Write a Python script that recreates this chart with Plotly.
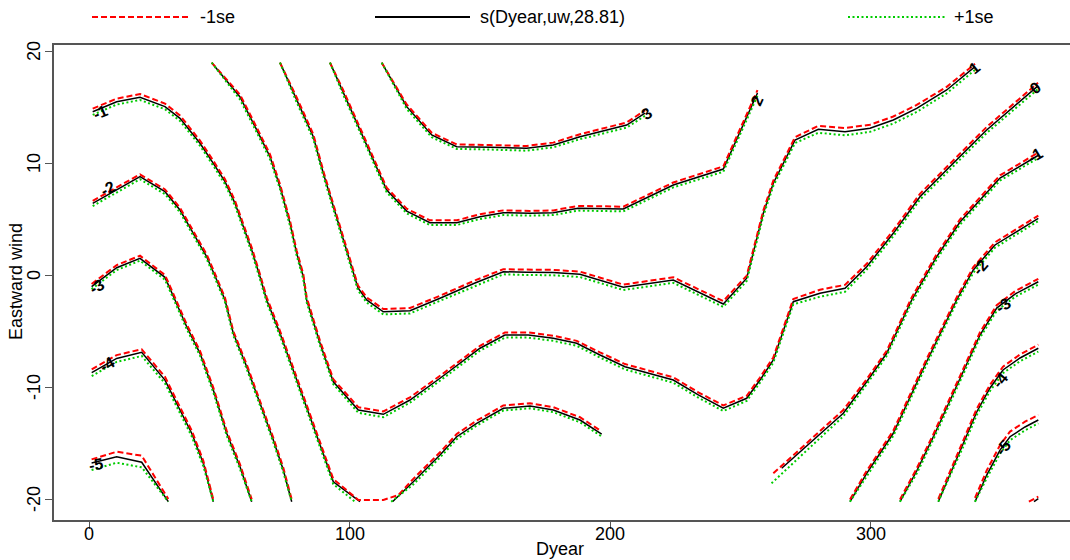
import plotly.graph_objects as go

# ---------------- text ----------------
x_ticks = [0, 100, 200, 300]
y_ticks = [-20, -10, 0, 10, 20]
x_title = "Dyear"
y_title = "Eastward wind"
legend_labels = ["-1se", "s(Dyear,uw,28.81)", "+1se"]

# ---------------- contour lines (fit, -1se = red, +1se = green) ----------------
# level -5 (left)
m5a_x = [1, 10.63, 20.23, 30.44]
m5a_fit = [-16.79, -16.22, -16.72, -20.24]
m5a_lo = [-16.46, -15.78, -16.13, -20.0]
m5a_hi = [-17.41, -16.76, -17.17, -20.24]

# level -4 (left)
m4a_x = [1.04, 10.63, 20.23, 29.17, 32.36, 35.59, 39.42, 43.88, 47.72]
m4a_fit = [-8.72, -7.45, -6.90, -9.38, -10.87, -12.35, -14.13, -16.81, -20.24]
m4a_lo = [-8.42, -7.15, -6.63, -9.1, -10.6, -12.1, -13.88, -16.58, -20.03]
m4a_hi = [-9.02, -7.76, -7.23, -9.68, -11.15, -12.62, -14.4, -17.06, -20.24]

# level -3 (left)
m3a_x = [1, 10.63, 19.58, 29.17, 33.01, 37.51, 42.61, 47.72, 52.86, 57.97, 62.46]
m3a_fit = [-1.04, 0.65, 1.49, -0.21, -2.23, -4.62, -6.99, -10.27, -14.13, -17.12, -20.24]
m3a_lo = [-0.8, 0.88, 1.72, 0.0, -2.02, -4.41, -6.78, -10.06, -13.92, -16.91, -20.03]
m3a_hi = [-1.26, 0.44, 1.28, -0.42, -2.44, -4.83, -7.2, -10.48, -14.34, -17.33, -20.24]

# level -2 (left)
m2a_x = [1.42, 9.33, 19.58, 29.17, 34.93, 40.04, 45.18, 49.02, 52.21, 55.39, 60.54,
         65.64, 70.75, 74.59, 77.81]
m2a_fit = [6.40, 7.44, 8.78, 7.44, 5.80, 3.72, 1.63, -0.45, -2.23, -5.21, -8.19,
           -11.46, -14.73, -17.41, -20.24]
m2a_lo = [6.62, 7.66, 8.99, 7.64, 6.0, 3.92, 1.83, -0.25, -2.03, -5.01, -7.99,
          -11.26, -14.53, -17.21, -20.04]
m2a_hi = [6.15, 7.2, 8.55, 7.22, 5.6, 3.52, 1.43, -0.65, -2.43, -5.41, -8.39,
          -11.66, -14.93, -17.61, -20.24]

# level -1 (left part, two pieces of the fit)
m1a_x = [1.42, 10.63, 19.58, 29.17, 34.93, 42.61, 47.72, 52.21, 56.05, 59.23, 62.46,
         65.64, 68.21, 73.3, 78.4, 83.57, 88.68, 93.79, 104.03]
m1a_fit = [14.58, 15.47, 15.87, 15.03, 13.99, 11.76, 9.97, 8.33, 6.40, 4.31, 2.23,
           -0.15, -2.23, -5.21, -8.48, -11.76, -15.03, -18.46, -20.24]
m1b_x = [116.5, 124.49, 134.74, 141.15, 148.83, 159.04, 169.29, 178.23, 188.48, 196.81]
m1b_fit = [-20.24, -18.46, -16.07, -14.44, -13.24, -11.90, -11.70, -12.05, -12.95, -14.20]
m1_lo_x = [1.42, 10.63, 19.58, 29.17, 34.93, 42.61, 47.72, 52.21, 56.05, 59.23, 62.46,
           65.64, 68.21, 73.3, 78.4, 83.57, 88.68, 93.79, 103.4, 113.0, 118.8, 124.49,
           134.74, 141.15, 148.83, 159.04, 169.29, 178.23, 188.48, 196.0]
m1_lo = [14.85, 15.75, 16.16, 15.3, 14.25, 12.0, 10.2, 8.55, 6.62, 4.52, 2.45,
         0.07, -2.0, -4.98, -8.25, -11.53, -14.8, -18.22, -20.09, -20.09, -19.64, -18.2,
         -15.83, -14.2, -13.0, -11.65, -11.45, -11.8, -12.7, -13.85]
m1a_hi_x = [1.42, 10.63, 19.58, 29.17, 34.93, 42.61, 47.72, 52.21, 56.05, 59.23, 62.46,
            65.64, 68.21, 73.3, 78.4, 83.57, 88.68, 93.79, 102.1]
m1a_hi = [14.3, 15.22, 15.63, 14.8, 13.76, 11.54, 9.75, 8.11, 6.18, 4.09, 2.01,
          -0.37, -2.45, -5.43, -8.7, -11.98, -15.25, -18.68, -20.24]
m1b_hi_x = [116.0, 124.49, 134.74, 141.15, 148.83, 159.04, 169.29, 178.23, 188.48, 196.81]
m1b_hi = [-20.24, -18.7, -16.3, -14.66, -13.45, -12.1, -11.9, -12.25, -13.15, -14.42]

# level 0
z0_x = [47.10, 57.97, 64.38, 69.48, 73.32, 77.16, 79.73, 82.27, 83.57, 88.68, 93.78,
        103.38, 112.98, 123.22, 134.74, 150.10, 159.69, 168.64, 178.23, 187.22, 196.16,
        205.76, 224.30, 233.90, 243.49, 252.48, 257.58, 262.69, 270.36, 280.61, 290.21,
        298.54, 308.75, 318.98, 331.77, 344.6, 364.3]
z0_fit = [18.96, 15.89, 12.95, 10.56, 7.88, 4.62, 1.94, -0.15, -2.23, -6.10, -9.53,
          -12.05, -12.44, -11.16, -9.22, -6.54, -5.36, -5.36, -5.65, -6.10, -7.14,
          -8.19, -9.38, -10.71, -11.90, -11.01, -9.38, -7.59, -2.38, -1.63, -1.19,
          0.74, 3.72, 6.99, 9.97, 12.95, 16.88]
z0_lo = [18.96, 16.11, 13.17, 10.78, 8.1, 4.84, 2.16, 0.07, -2.01, -5.88, -9.31,
         -11.8, -12.18, -10.92, -9.0, -6.32, -5.13, -5.13, -5.42, -5.88, -6.91,
         -7.95, -9.14, -10.47, -11.65, -10.78, -9.15, -7.36, -2.14, -1.32, -0.88,
         1.0, 3.98, 7.25, 10.23, 13.22, 17.16]
z0_hi = [18.96, 15.67, 12.73, 10.34, 7.66, 4.4, 1.72, -0.37, -2.45, -6.32, -9.75,
         -12.3, -12.7, -11.4, -9.44, -6.76, -5.59, -5.59, -5.88, -6.32, -7.37,
         -8.43, -9.62, -10.95, -12.15, -11.24, -9.61, -7.82, -2.62, -1.94, -1.5,
         0.48, 3.46, 6.73, 9.71, 12.68, 16.6]

# level 1
p1_x = [73.32, 79.73, 86.10, 89.94, 93.78, 97.62, 100.19, 103.26, 106.60, 112.98, 123.22,
        134.74, 148.18, 159.04, 168.02, 178.12, 188.48, 205.1, 224.30, 243.49, 252.48,
        256.32, 258.85, 262.69, 271.02, 279.96, 290.21, 299.81, 308.75, 317.73, 329.25,
        340.12]
p1_fit = [18.96, 15.63, 12.35, 9.08, 6.10, 3.13, 1.04, -1.16, -2.23, -3.28, -3.19,
          -2.08, -0.71, 0.29, 0.24, 0.22, 0.06, -1.10, -0.45, -2.59, -0.29,
          3.13, 5.51, 8.19, 12.05, 13.01, 12.79, 13.10, 13.84, 14.88, 16.52, 18.60]
p1_lo = [18.96, 15.85, 12.57, 9.3, 6.32, 3.35, 1.26, -0.94, -2.0, -3.04, -2.95,
         -1.85, -0.48, 0.52, 0.48, 0.46, 0.3, -0.86, -0.2, -2.33, -0.05,
         3.37, 5.75, 8.43, 12.3, 13.32, 13.12, 13.42, 14.15, 15.18, 16.8, 18.85]
p1_hi = [18.96, 15.41, 12.13, 8.86, 5.88, 2.91, 0.82, -1.38, -2.46, -3.52, -3.43,
         -2.31, -0.94, 0.06, 0.0, -0.02, -0.18, -1.34, -0.7, -2.85, -0.53,
         2.89, 5.27, 7.95, 11.78, 12.7, 12.47, 12.78, 13.52, 14.56, 16.22, 18.32]

# level 2
p2_x = [92.51, 97.5, 104.03, 109.14, 114.28, 121.96, 130.90, 141.15, 150.10, 159.04,
        169.29, 178.23, 187.72, 205.11, 224.30, 243.49, 256.62]
p2_fit = [18.96, 16.34, 12.95, 10.27, 7.59, 5.71, 4.67, 4.67, 5.21, 5.56,
          5.51, 5.56, 5.96, 5.89, 8.04, 9.46, 16.25]
p2_lo = [18.96, 16.54, 13.15, 10.47, 7.8, 5.92, 4.88, 4.88, 5.42, 5.77,
         5.72, 5.77, 6.17, 6.1, 8.26, 9.7, 16.5]
p2_hi = [18.96, 16.14, 12.75, 10.07, 7.38, 5.5, 4.46, 4.46, 5.0, 5.35,
         5.3, 5.35, 5.75, 5.68, 7.82, 9.22, 16.0]

# level 3
p3_x = [112.36, 121.96, 131.56, 141.15, 153.93, 168.02, 178.23, 188.48, 206.41, 213.44]
p3_fit = [18.96, 15.03, 12.5, 11.46, 11.40, 11.31, 11.61, 12.35, 13.39, 14.46]
p3_lo = [18.96, 15.23, 12.7, 11.66, 11.6, 11.52, 11.82, 12.57, 13.62, 14.7]
p3_hi = [18.96, 14.83, 12.3, 11.26, 11.2, 11.1, 11.4, 12.13, 13.16, 14.22]

# level -1 (right)
m1r_x = [265.91, 289.56, 298.54, 306.22, 315.82, 325.41, 334.36, 344.61, 349.71, 364.3]
m1r_fit = [-17.26, -12.35, -9.53, -6.99, -2.23, 1.63, 4.73, 7.41, 8.66, 10.67]
m1r_lo_x = [262.7, 289.56, 298.54, 306.22, 315.82, 325.41, 334.36, 344.61, 349.71, 364.3]
m1r_lo = [-17.71, -12.05, -9.3, -6.77, -2.0, 1.86, 4.96, 7.64, 8.9, 10.92]
m1r_hi_x = [262.0, 289.56, 298.54, 306.22, 315.82, 325.41, 334.36, 344.61, 349.71, 364.3]
m1r_hi = [-18.6, -12.62, -9.76, -7.22, -2.46, 1.4, 4.5, 7.18, 8.43, 10.43]

# level -2 (right)
m2r_x = [292.13, 298.54, 308.75, 320.92, 333.07, 339.46, 347.79, 364.42]
m2r_fit = [-20.24, -17.71, -14.13, -8.04, -2.23, 0.45, 2.68, 5.06]
m2r_lo = [-20.04, -17.48, -13.9, -7.8, -2.0, 0.7, 2.92, 5.3]
m2r_hi = [-20.24, -17.94, -14.36, -8.28, -2.46, 0.2, 2.44, 4.82]

# level -3 (right)
m3r_x = [311.32, 317.73, 324.1, 329.75, 334.36, 342.03, 348.44, 355.47, 364.42]
m3r_fit = [-20.24, -17.5, -14.46, -11.61, -9.20, -5.36, -2.95, -1.70, -0.60]
m3r_lo = [-20.04, -17.27, -14.23, -11.38, -8.97, -5.12, -2.7, -1.45, -0.34]
m3r_hi = [-20.24, -17.73, -14.69, -11.84, -9.43, -5.6, -3.2, -1.95, -0.86]

# level -4 (right)
m4r_x = [326.03, 331.79, 336.28, 340.77, 345.87, 350.86, 357.39, 364.42]
m4r_fit = [-20.24, -17.05, -14.73, -12.23, -10.09, -8.48, -7.41, -6.54]
m4r_lo = [-20.0, -16.8, -14.47, -11.95, -9.8, -8.18, -7.1, -6.22]
m4r_hi = [-20.24, -17.3, -14.98, -12.5, -10.36, -8.76, -7.7, -6.84]

# level -5 (right)
m5r_x = [340.12, 344.61, 349.71, 353.55, 359.31, 364.42]
m5r_fit = [-20.24, -17.86, -15.63, -14.44, -13.57, -12.95]
m5r_lo = [-19.9, -17.45, -15.2, -13.98, -13.1, -12.5]
m5r_hi = [-20.24, -18.15, -15.95, -14.75, -13.87, -13.25]

# level -6 (corner fragment)
m6r_x = [362.76, 364.42]
m6r_fit = [-20.24, -19.96]
m6r_lo_x = [360.8, 364.42]
m6r_lo = [-20.24, -19.78]

# contour labels
lab_text = ["-1", "-2", "-3", "-4", "-5", "3", "2", "1", "0", "-1", "-2", "-3", "-4", "-5"]
lab_x = [4.2, 7.3, 3.1, 6.9, 2.7, 214.2, 256.4, 340.1, 363.5, 363.1, 342.0, 350.9, 349.7, 350.9]
lab_y = [14.55, 7.68, -1.07, -8.0, -16.9, 14.46, 15.6, 18.5, 16.7, 10.7, 0.7, -2.7, -9.4, -15.4]

# ---------------- styles ----------------
FONT = "Liberation Sans, Arial, Helvetica, sans-serif"
FIT_STYLE = dict(color="black", width=1.5)
LO_STYLE = dict(color="#FF0000", width=2, dash="6px,3px")
HI_STYLE = dict(color="#00CC00", width=2, dash="2px,2.5px")
lab_angle = [-23, -29, -30, -30, -10, -35, -66, -39, -40, -31, -49, -35, -50, -50]

fit_lines = [(m5a_x, m5a_fit), (m4a_x, m4a_fit), (m3a_x, m3a_fit), (m2a_x, m2a_fit),
             (m1a_x, m1a_fit), (m1b_x, m1b_fit), (z0_x, z0_fit), (p1_x, p1_fit),
             (p2_x, p2_fit), (p3_x, p3_fit), (m1r_x, m1r_fit), (m2r_x, m2r_fit),
             (m3r_x, m3r_fit), (m4r_x, m4r_fit), (m5r_x, m5r_fit), (m6r_x, m6r_fit)]
lo_lines = [(m5a_x, m5a_lo), (m4a_x, m4a_lo), (m3a_x, m3a_lo), (m2a_x, m2a_lo),
            (m1_lo_x, m1_lo), (z0_x, z0_lo), (p1_x, p1_lo), (p2_x, p2_lo), (p3_x, p3_lo),
            (m1r_lo_x, m1r_lo), (m2r_x, m2r_lo), (m3r_x, m3r_lo), (m4r_x, m4r_lo),
            (m5r_x, m5r_lo), (m6r_lo_x, m6r_lo)]
hi_lines = [(m5a_x, m5a_hi), (m4a_x, m4a_hi), (m3a_x, m3a_hi), (m2a_x, m2a_hi),
            (m1a_hi_x, m1a_hi), (m1b_hi_x, m1b_hi), (z0_x, z0_hi), (p1_x, p1_hi),
            (p2_x, p2_hi), (p3_x, p3_hi), (m1r_hi_x, m1r_hi), (m2r_x, m2r_hi),
            (m3r_x, m3r_hi), (m4r_x, m4r_hi), (m5r_x, m5r_hi)]

fig = go.Figure()
for xs, ys in fit_lines:
    fig.add_trace(go.Scatter(x=xs, y=ys, mode="lines", line=FIT_STYLE,
                             showlegend=False, hoverinfo="skip"))
for xs, ys in lo_lines:
    fig.add_trace(go.Scatter(x=xs, y=ys, mode="lines", line=LO_STYLE,
                             showlegend=False, hoverinfo="skip"))
for xs, ys in hi_lines:
    fig.add_trace(go.Scatter(x=xs, y=ys, mode="lines", line=HI_STYLE,
                             showlegend=False, hoverinfo="skip"))

for t, lx, ly, ang in zip(lab_text, lab_x, lab_y, lab_angle):
    fig.add_annotation(x=lx, y=ly, xref="x", yref="y", text=t, showarrow=False,
                       textangle=ang,
                       font=dict(family=FONT, size=16, color="black", weight="bold"))

# ---------------- layout geometry (pixels -> paper) ----------------
W, H = 1070, 560
L, R, T, B = 54, 0, 45, 40
PW, PH = W - L - R, H - T - B


def px(xp):
    return (xp - L) / PW


def py(yp):
    return (H - B - yp) / PH


leg_y = py(17)
leg_items = [(92, 190, 198, LO_STYLE), (375, 470, 478, dict(color="black", width=2)),
             (848, 945, 952, HI_STYLE)]
for (x0, x1, xt, st), lab in zip(leg_items, legend_labels):
    fig.add_shape(type="line", xref="paper", yref="paper", x0=px(x0), x1=px(x1),
                  y0=leg_y, y1=leg_y, line=st)
    fig.add_annotation(x=px(xt), y=leg_y, xref="paper", yref="paper", text=lab,
                       showarrow=False, xanchor="left", yanchor="middle",
                       font=dict(family=FONT, size=18, color="black"))

# tick labels (placed like R's axis labels)
for v in x_ticks:
    fig.add_annotation(x=v, y=py(534), xref="x", yref="paper", text=str(v),
                       showarrow=False, xanchor="center", yanchor="middle",
                       font=dict(family=FONT, size=18, color="black"))
for v in y_ticks:
    fig.add_annotation(x=px(34), y=v, xref="paper", yref="y", text=str(v),
                       showarrow=False, xanchor="center", yanchor="middle", textangle=-90,
                       font=dict(family=FONT, size=18, color="black"))

fig.add_annotation(x=px(560), y=py(549), xref="paper", yref="paper", text=x_title,
                   showarrow=False, xanchor="center", yanchor="middle",
                   font=dict(family=FONT, size=18, color="black"))
fig.add_annotation(x=px(16), y=py(282), xref="paper", yref="paper", text=y_title,
                   showarrow=False, xanchor="center", yanchor="middle", textangle=-90,
                   font=dict(family=FONT, size=18, color="black"))

AX = "#555555"
fig.update_layout(
    width=W, height=H,
    margin=dict(l=L, r=R, t=T, b=B, pad=0),
    paper_bgcolor="white", plot_bgcolor="white",
    font=dict(family=FONT, size=18, color="black"),
    xaxis=dict(range=[(L - 89) / 2.605, (W - 89) / 2.605], tickvals=x_ticks,
               showticklabels=False, showgrid=False, zeroline=False,
               showline=True, linecolor=AX, linewidth=2, mirror=True,
               ticks="outside", ticklen=7, tickcolor=AX, tickwidth=1),
    yaxis=dict(range=[(275 - (H - B)) / 11.2, (275 - T) / 11.2], tickvals=y_ticks,
               showticklabels=False, showgrid=False, zeroline=False,
               showline=True, linecolor=AX, linewidth=2, mirror=False,
               ticks="outside", ticklen=7, tickcolor=AX, tickwidth=1),
)

fig.write_html("out.html")
